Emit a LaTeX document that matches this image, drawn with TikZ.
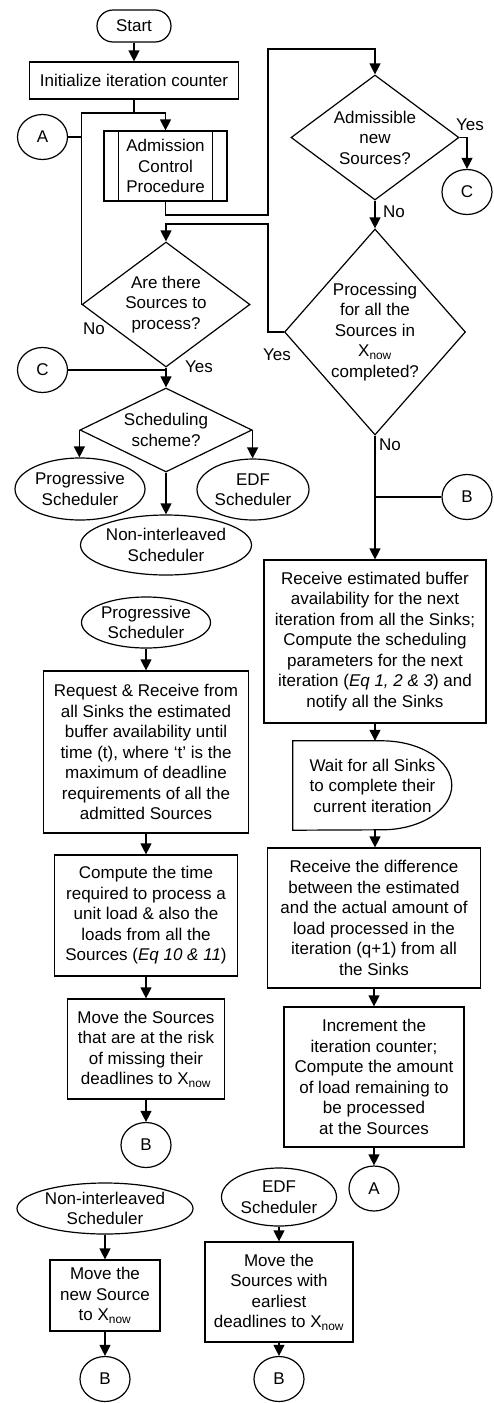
\documentclass[tikz,border=0pt]{standalone}
\usepackage{fontspec}
\setmainfont{Liberation Sans}
\usetikzlibrary{shapes.geometric,arrows.meta,calc}
\begin{document}
\begin{tikzpicture}[x=1pt,y=1pt,
  every node/.style={font=\fontsize{17}{20.5}\selectfont},
  flow/.style={draw, line width=1.2pt},
  arr/.style={draw, line width=1.2pt, -{Triangle[length=11pt,width=11pt]}},
  box/.style={draw, line width=1.2pt, rectangle, align=center, inner sep=0pt},
  term/.style={box, rounded corners=16pt},
  oval/.style={draw, line width=1.2pt, ellipse, align=center, inner sep=0pt},
  conn/.style={oval, minimum width=50pt, minimum height=45pt},
  dia/.style={draw, line width=1.2pt, diamond, inner sep=0pt},
  txt/.style={align=center, inner sep=0pt},
  lbl/.style={inner sep=0pt}
]
\useasboundingbox (0,0) rectangle (494,-1403);

% ---- top left
\node[term, minimum width=74pt, minimum height=32pt] (start) at (134,-26) {Start};
\node[box, minimum width=209pt, minimum height=37pt] (init) at (134,-80.5) {Initialize iteration counter};
\node[conn] (A1) at (42.5,-137) {A};
\node[box, minimum width=123pt, minimum height=70pt] (adm) at (165.5,-166) {Admission\\Control\\Procedure};
\draw[line width=1.2pt] ([xshift=15pt]adm.north west) -- ([xshift=15pt]adm.south west)
  ([xshift=-15pt]adm.north east) -- ([xshift=-15pt]adm.south east);

% ---- decisions
\node[dia, minimum width=168pt, minimum height=125pt] (d2) at (375,-137.5) {};
\node[txt] (d2t) at (d2) {Admissible\\new\\Sources?};
\node[conn] (C1) at (467,-192) {C};
\node[dia, minimum width=181pt, minimum height=206pt] (d3) at (375,-332) {};
\node[txt] (d3t) at (d3) {Processing\\for all the\\Sources in\\X\textsubscript{now}\\completed?};
\node[dia, minimum width=168pt, minimum height=125pt] (d1) at (166,-304.5) {};
\node[txt] (d1t) at (d1) {Are there\\Sources to\\process?};
\node[conn] (C2) at (42.5,-370) {C};
\node[dia, minimum width=172pt, minimum height=84pt] (d4) at (166,-430) {};
\node[txt] (d4t) at (d4) {Scheduling\\scheme?};
\node[oval, minimum width=130pt, minimum height=62pt] (prog1) at (80,-489) {Progressive\\Scheduler};
\node[oval, minimum width=112pt, minimum height=61pt] (edf1) at (253,-489.5) {EDF\\Scheduler};
\node[oval, minimum width=171pt, minimum height=60pt] (non1) at (166,-545) {Non-interleaved\\Scheduler};

% ---- labels
\node[lbl] (y2) at (470,-125) {Yes};
\node[lbl] (n2) at (394,-212) {No};
\node[lbl] (y3) at (277,-355) {Yes};
\node[lbl] (n3) at (390,-445) {No};
\node[lbl] (n1) at (94,-329) {No};
\node[lbl] (y1) at (199,-367) {Yes};

% ---- progressive column
\node[oval, minimum width=129pt, minimum height=51pt] (prog2) at (146,-622.5) {Progressive\\Scheduler};
\node[box, minimum width=205pt, minimum height=162pt] (req) at (146,-752) {Request \& Receive from\\all Sinks the estimated\\buffer availability until\\time (t), where ‘t’ is the\\maximum of deadline\\requirements of all the\\admitted Sources};
\node[box, minimum width=183pt, minimum height=121pt] (comp) at (146,-915.5) {Compute the time\\required to process a\\unit load \& also the\\loads from all the\\Sources (\textit{Eq 10 \& 11})};
\node[box, minimum width=157pt, minimum height=100pt] (mv1) at (146,-1049) {Move the Sources\\that are at the risk\\of missing their\\deadlines to X\textsubscript{now}};
\node[conn] (B1) at (146,-1145) {B};

% ---- non-interleaved column
\node[oval, minimum width=176pt, minimum height=51pt] (non2) at (105,-1208.5) {Non-interleaved\\Scheduler};
\node[box, minimum width=110pt, minimum height=71pt] (mvnew) at (105,-1295.5) {Move the\\new Source\\to X\textsubscript{now}};
\node[conn] (B2) at (105,-1379) {B};

% ---- EDF column
\node[oval, minimum width=115pt, minimum height=58pt] (edf2) at (279,-1197) {EDF\\Scheduler};
\node[box, minimum width=148pt, minimum height=100pt] (mvedf) at (279,-1292) {Move the\\Sources with\\earliest\\deadlines to X\textsubscript{now}};
\node[conn] (B3) at (279,-1379) {B};

% ---- right column
\node[conn] (B4) at (467,-497) {B};
\node[box, minimum width=222pt, minimum height=163pt] (recv) at (375,-641.5) {Receive estimated buffer\\availability for the next\\iteration from all the Sinks;\\Compute the scheduling\\parameters for the next\\iteration (\textit{Eq 1, 2 \& 3}) and\\notify all the Sinks};
\node[minimum width=159pt, minimum height=89pt, inner sep=0pt] (wait) at (372.5,-785.5) {};
\draw[line width=1.2pt] (wait.north west) -- ++(89pt,0)
  arc[start angle=90, end angle=-90, x radius=70pt, y radius=44.5pt] -- (wait.south west) -- cycle;
\node[txt] (waitt) at (wait) {Wait for all Sinks\\to complete their\\current iteration};
\node[box, minimum width=213pt, minimum height=140pt] (diff) at (374,-918) {Receive the difference\\between the estimated\\and the actual amount of\\load processed in the\\iteration (q+1) from all\\the Sinks};
\node[box, minimum width=180pt, minimum height=140pt] (incr) at (374,-1077) {Increment the\\iteration counter;\\Compute the amount\\of load remaining to\\be processed\\at the Sources};
\node[conn] (A2) at (374,-1188.5) {A};

% ---- connectors
\coordinate (j1) at (134,-113);
\coordinate (r1) at (268,-215);
\coordinate (r2) at (268,-49);
\coordinate (r3) at (268,-224);
\draw[arr] (start) -- (init);
\draw[arr] (init.south) -- (j1) -| (adm.north);
\draw[flow] (d1.west) |- (j1);
\draw[flow] (A1.east) -- (A1.east -| d1.west);
\draw[arr] (adm.south) |- (r1) -- (r2) -| (d2.north);
\draw[arr] (d2.east) -| (C1.north);
\draw[arr] (d2.south) -- (d3.north);
\draw[arr] (d3.west) -| (r3) -| (d1.north);
\draw[arr] (d1.south) -- (d4.north);
\draw[flow] (C2.east) -- (C2.east -| d1.south);
\draw[arr] (d4.west) -- (d4.west |- prog1.north);
\draw[arr] (d4.east) -- (d4.east |- edf1.north);
\draw[arr] (d4.south) -- (non1.north);

\draw[arr] (prog2.south) -- (req.north);
\draw[arr] (req.south) -- (comp.north);
\draw[arr] (comp.south) -- (mv1.north);
\draw[arr] (mv1.south) -- (B1.north);

\draw[arr] (non2.south) -- (mvnew.north);
\draw[arr] (mvnew.south) -- (B2.north);

\draw[arr] (edf2.south) -- (mvedf.north);
\draw[arr] (mvedf.south) -- (B3.north);

\draw[arr] (d3.south) -- (recv.north);
\draw[flow] (B4.west) -- (B4.west -| d3.south);
\draw[arr] (recv.south) -- (recv.south |- wait.north);
\draw[arr] (recv.south |- wait.south) -- (recv.south |- diff.north);
\draw[arr] (diff.south) -- (incr.north);
\draw[arr] (incr.south) -- (A2.north);
\end{tikzpicture}
\end{document}
